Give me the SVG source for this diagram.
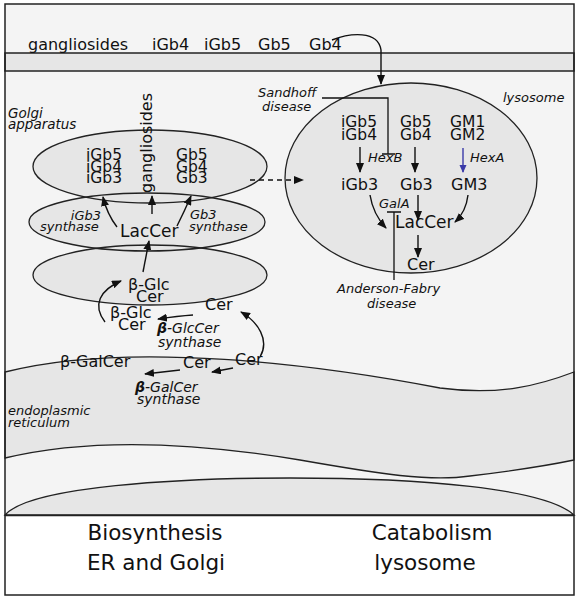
<svg xmlns="http://www.w3.org/2000/svg" width="579" height="601" viewBox="0 0 579 601">
<defs>
<marker id="ah" markerWidth="10" markerHeight="8" refX="9" refY="4" orient="auto" markerUnits="userSpaceOnUse"><path d="M0,0 L10,4 L0,8 z" fill="#111"/></marker>
<marker id="ahb" markerWidth="8" markerHeight="8" refX="7" refY="3.5" orient="auto" markerUnits="userSpaceOnUse"><path d="M0,0 L8,3.5 L0,7 z" fill="#3a3aa8"/></marker>
<style>
.t{font-family:"DejaVu Sans","Liberation Sans",sans-serif;font-size:16px;fill:#111}
.s{font-family:"DejaVu Sans","Liberation Sans",sans-serif;font-size:15.5px;fill:#111}
.i{font-family:"DejaVu Sans","Liberation Sans",sans-serif;font-size:13px;font-style:italic;fill:#111}
.big{font-family:"DejaVu Sans","Liberation Sans",sans-serif;font-size:21.5px;fill:#111;text-anchor:middle}
.sh{fill:#e6e6e6;stroke:none}
.ol{fill:none;stroke:#222;stroke-width:1.3}
.c{fill:none;stroke:#111;stroke-width:1.4;marker-end:url(#ah)}
.inh{fill:none;stroke:#111;stroke-width:1.3}
</style>
</defs>
<rect x="5" y="4" width="569" height="591" fill="#f4f4f4"/>
<g id="membrane"><rect x="5" y="53" width="569" height="18" fill="#e6e6e6" stroke="#222" stroke-width="1.5"/></g>
<g id="er">
<path d="M5,372 C130,340 320,365 440,388 C500,396 540,385 574,372 L574,460 C550,465 520,470 470,476 C430,482 380,474 300,460 C180,440 80,440 5,458 Z" fill="#e6e6e6" stroke="#222" stroke-width="1.3"/>
<text class="i" x="8" y="415">endoplasmic</text>
<text class="i" x="8" y="427">reticulum</text>
</g>
<g id="dome"><path d="M5,515 C30,486 180,478 290,478 C420,478 545,488 574,515 Z" fill="#e6e6e6" stroke="#222" stroke-width="1.3"/></g>
<rect x="5" y="515" width="569" height="80" fill="#fff"/>
<line x1="5" y1="515.5" x2="574" y2="515.5" stroke="#222" stroke-width="1.3"/>
<g id="golgi">
<ellipse class="sh" cx="150" cy="166.5" rx="117" ry="36.5"/>
<ellipse class="sh" cx="147" cy="222" rx="118" ry="29"/>
<ellipse class="sh" cx="150" cy="275" rx="117" ry="30"/>
<ellipse class="ol" cx="150" cy="166.5" rx="117" ry="36.5"/>
<ellipse class="ol" cx="147" cy="222" rx="118" ry="29"/>
<ellipse class="ol" cx="150" cy="275" rx="117" ry="30"/>
<text class="i" x="8" y="118" style="font-size:13.5px">Golgi</text>
<text class="i" x="8" y="129" style="font-size:13.5px">apparatus</text>
</g>
<g id="lysosome">
<ellipse cx="411" cy="178" rx="126" ry="95" fill="#e6e6e6" stroke="#222" stroke-width="1.3"/>
<text class="i" x="503" y="102">lysosome</text>
</g>
<g id="surface-labels">
<text class="t" x="28" y="50">gangliosides</text>
<text class="t" x="152" y="50">iGb4</text>
<text class="t" x="204" y="50">iGb5</text>
<text class="t" x="258" y="50">Gb5</text>
<text class="t" x="309" y="50">Gb4</text>
</g>
<g id="golgi-top-labels">
<text class="s" x="86" y="160">iGb5</text>
<text class="s" x="86" y="171.5">iGb4</text>
<text class="s" x="86" y="183">iGb3</text>
<text class="s" x="176" y="160">Gb5</text>
<text class="s" x="176" y="171.5">Gb4</text>
<text class="s" x="176" y="183">Gb3</text>
<text class="t" transform="translate(152,193) rotate(-90)">gangliosides</text>
</g>
<g id="golgi-mid-labels">
<text class="i" x="101" y="220" text-anchor="end">iGb3</text>
<text class="i" x="40" y="231">synthase</text>
<text class="i" x="190" y="219">Gb3</text>
<text class="i" x="189" y="231">synthase</text>
<text class="t" x="120" y="237" style="font-size:17px">LacCer</text>
</g>
<g id="golgi-low-labels">
<text class="t" x="128" y="290">β-Glc</text>
<text class="t" x="136" y="302">Cer</text>
<text class="t" x="110" y="318">β-Glc</text>
<text class="t" x="118" y="330">Cer</text>
<text class="t" x="205" y="310">Cer</text>
<text class="i" x="157" y="333" style="font-size:14px"><tspan font-weight="bold">β</tspan>-GlcCer</text>
<text class="i" x="158" y="347" style="font-size:14px">synthase</text>
</g>
<g id="er-labels">
<text class="t" x="235" y="365">Cer</text>
<text class="t" x="183" y="368">Cer</text>
<text class="t" x="60" y="367">β-GalCer</text>
<text class="i" x="135" y="392" style="font-size:14px"><tspan font-weight="bold">β</tspan>-GalCer</text>
<text class="i" x="137" y="404" style="font-size:14px">synthase</text>
</g>
<g id="lyso-labels">
<text class="i" x="258" y="97">Sandhoff</text>
<text class="i" x="262" y="111">disease</text>
<text class="s" x="341" y="127">iGb5</text>
<text class="s" x="341" y="139.5">iGb4</text>
<text class="s" x="400" y="127">Gb5</text>
<text class="s" x="400" y="139.5">Gb4</text>
<text class="s" x="450" y="127">GM1</text>
<text class="s" x="450" y="139.5">GM2</text>
<text class="i" x="368" y="162">HexB</text>
<text class="i" x="470" y="162">HexA</text>
<text class="t" x="341" y="190">iGb3</text>
<text class="t" x="400" y="190">Gb3</text>
<text class="t" x="451" y="190">GM3</text>
<text class="i" x="379" y="208">GalA</text>
<text class="t" x="395" y="228" style="font-size:17px">LacCer</text>
<text class="t" x="407" y="270">Cer</text>
<text class="i" x="337" y="293">Anderson-Fabry</text>
<text class="i" x="367" y="308">disease</text>
</g>
<g id="captions">
<text class="big" x="155" y="540">Biosynthesis</text>
<text class="big" x="156" y="570">ER and Golgi</text>
<text class="big" x="432" y="540">Catabolism</text>
<text class="big" x="425" y="570">lysosome</text>
</g>
<g id="connectors">
<path class="c" d="M332,40 C350,33 378,30 381,50 L381,84"/>
<path class="c" d="M250,180 L303,180" stroke-dasharray="5,4"/>
<path class="c" d="M117,227 Q107,214 103,197"/>
<path class="c" d="M152,214 L152,196"/>
<path class="c" d="M177,226 Q185,210 191,196"/>
<path class="c" d="M143,272 L149,241"/>
<path class="c" d="M105,322 C92,305 100,290 121,281"/>
<path class="c" d="M193,315 Q178,316 158,319"/>
<path class="c" d="M260,357 C270,340 258,322 241,312"/>
<path class="c" d="M233,368 L212,372"/>
<path class="c" d="M180,370 L145,374"/>
<path class="c" d="M360,147 L360,172"/>
<path class="c" d="M415,147 L415,172"/>
<path d="M463,148 L463,172" fill="none" stroke="#3a3aa8" stroke-width="1.4" marker-end="url(#ahb)"/>
<path class="c" d="M370,195 Q373,214 386,228"/>
<path class="c" d="M418,195 L418,220"/>
<path class="c" d="M468,195 Q466,212 455,222"/>
<path class="c" d="M418,235 L418,257"/>
<path class="inh" d="M322,98 L388,98 L388,154 M382,154 L395,154"/>
<path class="inh" d="M394,280 L394,212 M387,212 L401,212"/>
</g>
<rect x="5" y="4" width="569" height="591" fill="none" stroke="#222" stroke-width="1.5"/>
</svg>
